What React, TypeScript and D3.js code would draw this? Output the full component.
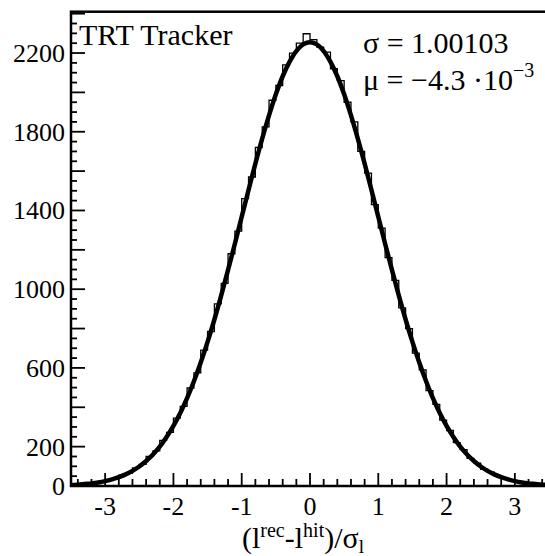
import { useEffect, useRef } from 'react';
import * as d3 from 'd3';

// histogram: 70 bins of width 0.1 from -3.5 to 3.5 (counts)
const binEdges = d3.range(-3.5, 3.45, 0.1);
const binCounts = [
  7, 10, 11, 18, 21, 33, 38, 55, 66, 92,
  110, 150, 178, 232, 272, 345, 405, 498, 575, 690,
  785, 925, 1030, 1180, 1295, 1460, 1570, 1720, 1825, 1960,
  2035, 2140, 2200, 2250, 2298,
  2268, 2230, 2205, 2120, 2060, 1950, 1850, 1700, 1590, 1430,
  1310, 1160, 1045, 905, 800, 675, 590, 485, 415, 335,
  282, 220, 185, 140, 116, 85, 70, 50, 42, 28,
  23, 15, 13, 7, 6,
];

// gaussian fit, sampled every 0.1 from -3.5 to 3.5
const fitX = d3.range(-3.5, 3.55, 0.1);
const fitY = [
  5, 7, 10, 13, 18, 25, 34, 45, 59, 77,
  99, 127, 160, 200, 249, 305, 371, 446, 532, 627,
  732, 846, 969, 1098, 1231, 1368, 1504, 1638, 1765, 1883,
  1990, 2082, 2155, 2210, 2244, 2255, 2244, 2210, 2155, 2082,
  1990, 1883, 1765, 1638, 1504, 1368, 1231, 1098, 969, 846,
  732, 627, 532, 446, 371, 305, 249, 200, 160, 127,
  99, 77, 59, 45, 34, 25, 18, 13, 10, 7, 5,
];

const yLabels = [0, 200, 600, 1000, 1400, 1800, 2200];
const xLabels = [-3, -2, -1, 0, 1, 2, 3];

const FONT = "'Liberation Serif', 'Times New Roman', 'DejaVu Serif', serif";

const App = () => {
  const ref = useRef<SVGSVGElement>(null);

  useEffect(() => {
    const svg = d3.select(ref.current);
    svg.selectAll('*').remove();

    const left = 71, right = 549, top = 11.7, bottom = 486;
    const x = d3.scaleLinear().domain([-3.5, 3.5]).range([left, right]);
    const y = d3.scaleLinear().domain([0, 2410]).range([bottom, top]);

    svg.append('defs').append('clipPath').attr('id', 'plotclip')
      .append('rect').attr('x', left).attr('y', top)
      .attr('width', right - left).attr('height', bottom - top);

    const plot = svg.append('g').attr('clip-path', 'url(#plotclip)');

    // histogram outline
    const pts: [number, number][] = binEdges.map((e, i) => [e, binCounts[i]]);
    pts.push([3.5, binCounts[binCounts.length - 1]]);
    const step = d3.line<[number, number]>()
      .x(d => x(d[0])).y(d => y(d[1]))
      .curve(d3.curveStepAfter);
    plot.append('path').attr('d', step(pts))
      .attr('fill', 'none').attr('stroke', 'black').attr('stroke-width', 1.3);

    // fit curve
    const fit = d3.line<number>()
      .x((d, i) => x(fitX[i])).y(d => y(d))
      .curve(d3.curveCatmullRom);
    plot.append('path').attr('d', fit(fitY))
      .attr('fill', 'none').attr('stroke', 'black').attr('stroke-width', 4.5)
      .attr('stroke-linejoin', 'round');

    // ticks
    const ticks = svg.append('g').attr('stroke', 'black').attr('stroke-width', 1.8);
    d3.range(0, 2401, 50).forEach(v => {
      const len = v % 200 === 0 ? 14 : 6;
      ticks.append('line').attr('x1', left).attr('x2', left + len)
        .attr('y1', y(v)).attr('y2', y(v));
    });
    d3.range(-34, 35, 2).forEach(k => {
      const v = k / 10;
      const len = k % 10 === 0 ? 13 : 7;
      ticks.append('line').attr('x1', x(v)).attr('x2', x(v))
        .attr('y1', bottom).attr('y2', bottom - len);
    });

    // frame
    svg.append('rect').attr('x', left).attr('y', top)
      .attr('width', right - left).attr('height', bottom - top)
      .attr('fill', 'none').attr('stroke', 'black').attr('stroke-width', 2.5);

    const txt = (sel: any, size: number) =>
      sel.attr('font-family', FONT).attr('font-size', size).attr('fill', 'black');

    // tick labels
    txt(svg.append('g'), 26).selectAll('text').data(yLabels).enter().append('text')
      .attr('x', 65).attr('y', (d: number) => y(d) + 9)
      .attr('text-anchor', 'end')
      .text((d: number) => d);
    txt(svg.append('g'), 26).selectAll('text').data(xLabels).enter().append('text')
      .attr('x', (d: number) => x(d)).attr('y', 515)
      .attr('text-anchor', 'middle')
      .text((d: number) => d);

    // axis title
    const title = txt(svg.append('text'), 30).attr('x', 303).attr('y', 548)
      .attr('text-anchor', 'middle');
    title.append('tspan').text('(l');
    title.append('tspan').attr('dy', -11).attr('font-size', 20).text('rec');
    title.append('tspan').attr('dy', 11).text('-l');
    title.append('tspan').attr('dy', -11).attr('font-size', 20).text('hit');
    title.append('tspan').attr('dy', 11).text(')/σ');
    title.append('tspan').attr('dy', 5).attr('font-size', 19).text('l');

    // labels
    txt(svg.append('text'), 30).attr('x', 79).attr('y', 45)
      .text('TRT Tracker');
    txt(svg.append('text'), 30).attr('x', 363).attr('y', 53)
      .text('σ = 1.00103');
    const mu = txt(svg.append('text'), 30).attr('x', 363).attr('y', 90);
    mu.append('tspan').text('μ = −4.3 ·10');
    mu.append('tspan').attr('dy', -13).attr('font-size', 20).text('−3');
  }, []);

  return (
    <div>
      <svg ref={ref} width={545} height={556}
        style={{ position: 'absolute', left: 0, top: 0, background: 'white' }} />
    </div>
  );
};

export default App;
